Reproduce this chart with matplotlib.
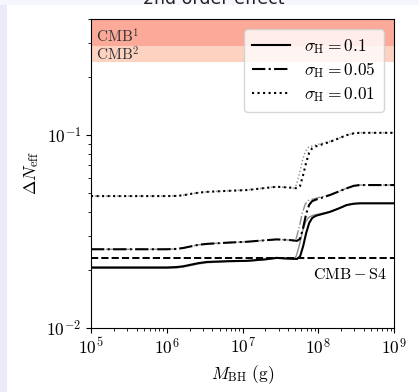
import matplotlib
matplotlib.use('Agg')
import matplotlib.pyplot as plt
import numpy as np
from matplotlib.patches import Rectangle
from matplotlib.ticker import FuncFormatter, NullFormatter

plt.rcParams['mathtext.fontset'] = 'cm'
plt.rcParams['font.family'] = 'DejaVu Sans'

# log10(M_BH / g) and Delta N_eff
# black curves (sigma_H = 0.1, 0.05, 0.01)
logM_k = [5.0, 5.5, 6.0, 6.13, 6.22, 6.32, 6.42, 6.53, 6.8, 7.06, 7.3, 7.45, 7.62, 7.72, 7.76, 7.8, 7.84, 7.88, 7.92, 7.97, 8.155, 8.28, 8.375, 8.47, 8.55, 9.0]
dn_01_k = [0.0206, 0.0206, 0.0206, 0.0207, 0.0209, 0.0213, 0.0217, 0.0220, 0.0222, 0.0223, 0.0227, 0.0231, 0.0229, 0.0228, 0.0235, 0.0265, 0.0310, 0.0350, 0.0372, 0.0382, 0.0400, 0.0418, 0.0434, 0.0441, 0.0443, 0.0443]
dn_005_k = [0.0256, 0.0256, 0.0256, 0.0257, 0.0260, 0.0265, 0.0270, 0.0273, 0.0277, 0.0280, 0.0285, 0.0288, 0.0286, 0.0283, 0.0290, 0.0330, 0.0390, 0.0435, 0.0455, 0.0463, 0.0489, 0.0512, 0.0530, 0.0546, 0.0551, 0.0551]
dn_001_k = [0.0483, 0.0483, 0.0483, 0.0484, 0.0488, 0.0496, 0.0503, 0.0508, 0.0514, 0.0519, 0.0532, 0.0540, 0.0535, 0.0530, 0.0545, 0.0620, 0.0720, 0.0810, 0.0855, 0.0875, 0.0923, 0.0965, 0.1000, 0.1022, 0.1028, 0.1028]

# grey curves (jump a little earlier)
logM_g = [5.0, 5.5, 6.0, 6.13, 6.22, 6.32, 6.42, 6.53, 6.8, 7.06, 7.3, 7.45, 7.6, 7.67, 7.71, 7.75, 7.79, 7.83, 7.87, 7.93, 8.155, 8.28, 8.375, 8.47, 8.55, 9.0]
dn_01_g = [0.0204, 0.0204, 0.0204, 0.0205, 0.0207, 0.0211, 0.0215, 0.0218, 0.0221, 0.0222, 0.0226, 0.0230, 0.0228, 0.0227, 0.0236, 0.0268, 0.0315, 0.0353, 0.0374, 0.0384, 0.0401, 0.0419, 0.0434, 0.0441, 0.0443, 0.0443]
dn_005_g = [0.0256, 0.0256, 0.0256, 0.0257, 0.0260, 0.0265, 0.0270, 0.0273, 0.0277, 0.0280, 0.0285, 0.0288, 0.0286, 0.0283, 0.0292, 0.0335, 0.0395, 0.0440, 0.0458, 0.0466, 0.0491, 0.0513, 0.0530, 0.0546, 0.0551, 0.0551]
dn_001_g = [0.0483, 0.0483, 0.0483, 0.0484, 0.0488, 0.0496, 0.0503, 0.0508, 0.0514, 0.0519, 0.0532, 0.0540, 0.0535, 0.0530, 0.0550, 0.0630, 0.0735, 0.0825, 0.0865, 0.0882, 0.0928, 0.0967, 0.1000, 0.1022, 0.1028, 0.1028]

labels = [r'$\sigma_{\rm H}=0.1$', r'$\sigma_{\rm H}=0.05$', r'$\sigma_{\rm H}=0.01$']
styles = ['-', '-.', ':']

cmb1 = 0.29
cmb2 = 0.24
cmb_s4 = 0.0231
ytop = 0.4

M_k = 10**np.array(logM_k)
M_g = 10**np.array(logM_g)

fig = plt.figure(figsize=(4.19, 3.92), dpi=100, facecolor='#F6F6FE')
fig.patches.append(Rectangle((0, 0), 7/419, 1 - 5/392, transform=fig.transFigure,
                             facecolor='#EAEAF9', edgecolor='none', zorder=-2))
fig.patches.append(Rectangle((7/419, 0), 1 - 7/419, 1 - 5/392, transform=fig.transFigure,
                             facecolor='white', edgecolor='none', zorder=-2))
fig.text(214/419, 1 - 4/392, '2nd order effect', ha='center', va='baseline',
         fontsize=12.5, color='#222222')

ax = fig.add_axes([91/419, (392-328)/392, 303/419, 309/392])

ax.axhspan(cmb2, ytop, color='#FED2C0', lw=0, zorder=0)
ax.axhspan(cmb1, ytop, color='#FBAA9A', lw=0, zorder=0)
ax.text(1.16e5, 0.325, r'${\rm CMB}^1$', fontsize=11, va='center', ha='left', color='#333333')
ax.text(1.16e5, 0.262, r'${\rm CMB}^2$', fontsize=11, va='center', ha='left', color='#333333')

for dn, ls in zip([dn_01_g, dn_005_g, dn_001_g], styles):
    ax.plot(M_g, dn, color='0.55', ls=ls, lw=1.0)
for dn, ls, lab in zip([dn_01_k, dn_005_k, dn_001_k], styles, labels):
    ax.plot(M_k, dn, color='k', ls=ls, lw=1.5, label=lab)

ax.axhline(cmb_s4, color='k', ls='--', lw=1.4)
ax.text(8.0e8, 0.0190, r'${\rm CMB-S4}$', fontsize=11.5, ha='right', va='center')

ax.set_xscale('log')
ax.set_yscale('log')
ax.set_xlim(1e5, 1e9)
ax.set_ylim(1e-2, ytop)
ax.set_xticks([1e5, 1e6, 1e7, 1e8, 1e9])
pow10 = FuncFormatter(lambda v, p: r'$10^{%d}$' % round(np.log10(v)))
ax.xaxis.set_major_formatter(pow10)
ax.yaxis.set_major_formatter(pow10)
ax.xaxis.set_minor_formatter(NullFormatter())
ax.yaxis.set_minor_formatter(NullFormatter())
ax.tick_params(labelsize=12.5)
ax.set_xlabel(r'$M_{\rm BH}~({\rm g})$', fontsize=12.5)
ax.set_ylabel(r'$\Delta N_{\rm eff}$', fontsize=12.5)

ax.legend(loc='upper right', fontsize=12.5, handlelength=2.2, borderaxespad=0.6,
          labelspacing=0.25, borderpad=0.45)

fig.savefig('out.png', dpi=100, facecolor=fig.get_facecolor())
